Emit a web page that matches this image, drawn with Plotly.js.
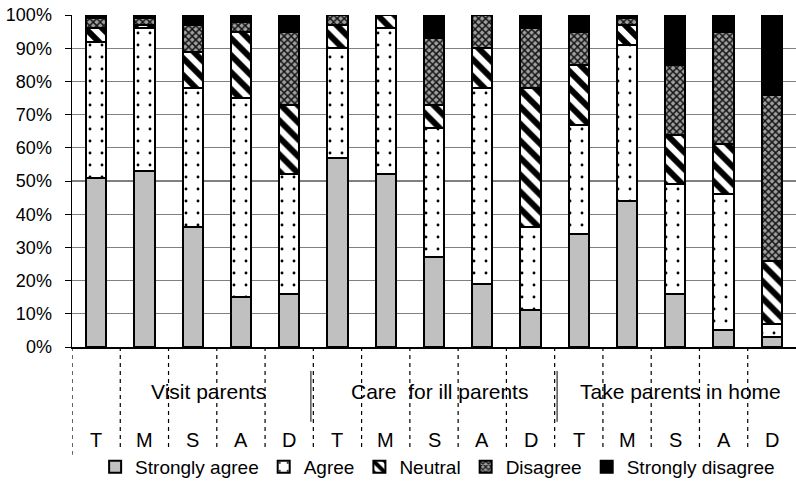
<!DOCTYPE html>
<html>
<head>
<meta charset="utf-8">
<script src="https://cdn.plot.ly/plotly-3.0.1.min.js"></script>
<style>html,body{margin:0;padding:0;background:#fff;}#chart{width:796px;height:486px;}</style>
</head>
<body>
<div id="chart"></div>
<script>
var groups = ['Visit parents', 'Care\u00a0 for ill parents', 'Take parents in home'];
var subLabels = ['T', 'M', 'S', 'A', 'D'];
var seriesNames = ['Strongly agree', 'Agree', 'Neutral', 'Disagree', 'Strongly disagree'];
var stronglyAgree    = [51, 53, 36, 15, 16, 57, 52, 27, 19, 11, 34, 44, 16, 5, 3];
var agree            = [41, 43, 42, 60, 36, 33, 44, 39, 59, 25, 33, 47, 33, 41, 4];
var neutral          = [4, 1, 11, 20, 21, 7, 4, 7, 12, 42, 18, 6, 15, 15, 19];
var disagree         = [3, 2, 8, 3, 22, 3, 0, 20, 10, 18, 10, 2, 21, 34, 50];
var stronglyDisagree = [1, 1, 3, 2, 5, 0, 0, 7, 0, 4, 5, 1, 15, 5, 24];
var yTicks = [0, 10, 20, 30, 40, 50, 60, 70, 80, 90, 100];

var values = [stronglyAgree, agree, neutral, disagree, stronglyDisagree];
var xs = [];
var cats = [];
groups.forEach(function (g) { subLabels.forEach(function (s) { xs.push(xs.length); cats.push(s); }); });

var styles = [
  {color: '#c0c0c0', pattern: {shape: ''}},
  {color: '#ffffff', pattern: {shape: '.', fgcolor: '#000', bgcolor: '#fff', size: 12, solidity: 0.045}},
  {color: '#ffffff', pattern: {shape: '\\', fgcolor: '#000', bgcolor: '#fff', size: 12, solidity: 0.5}},
  {color: '#808080', pattern: {shape: 'x', fgcolor: '#151515', bgcolor: '#a0a0a0', size: 5, solidity: 0.5}},
  {color: '#000000', pattern: {shape: ''}}
];

var traces = values.map(function (v, i) {
  return {
    type: 'bar', x: xs, y: v, name: seriesNames[i],
    marker: {color: styles[i].color, pattern: styles[i].pattern, line: {color: '#000', width: 2}},
    hoverinfo: 'skip'
  };
});

var H = 333; // plot height in px
function py(px) { return -px / H; }

var shapes = [];
var annotations = [];
for (var k = 0; k <= xs.length - 1; k++) {
  shapes.push({type: 'line', xref: 'x', yref: 'paper', x0: k - 0.5, x1: k - 0.5, y0: 0, y1: py(108),
    line: {color: '#000', width: 1.2, dash: '4px,4px'}});
}
var sepX = [4.45, 9.55];
sepX.forEach(function (bx) {
  shapes.push({type: 'line', xref: 'x', yref: 'paper', x0: bx, x1: bx, y0: py(24), y1: py(75),
    line: {color: '#000', width: 1}});
});
var groupX = [2.32, 7.12, 12.1];
groups.forEach(function (gname, gi) {
  annotations.push({xref: 'x', yref: 'paper', x: groupX[gi], y: py(45), text: gname, showarrow: false,
    xanchor: 'center', yanchor: 'middle', font: {size: 21, color: '#000'}});
});
cats.forEach(function (c, i) {
  annotations.push({xref: 'x', yref: 'paper', x: xs[i], y: py(93), text: c, showarrow: false,
    xanchor: 'center', yanchor: 'middle', font: {size: 20, color: '#000'}});
});

var layout = {
  width: 796, height: 486,
  margin: {l: 72, r: 0, t: 15, b: 138},
  paper_bgcolor: '#fff', plot_bgcolor: '#fff',
  font: {family: 'Liberation Sans, Arial, sans-serif', color: '#000', size: 16},
  barmode: 'stack', bargap: 0.58,
  showlegend: true,
  legend: {orientation: 'h', x: 0.505, xanchor: 'center', y: py(121), yanchor: 'middle',
    font: {size: 19}, itemwidth: 30, traceorder: 'normal'},
  xaxis: {range: [-0.5, xs.length - 0.5], showticklabels: false, showgrid: false, zeroline: false,
    ticks: '', showline: true, linecolor: '#000', linewidth: 1.5, fixedrange: true},
  yaxis: {range: [0, 100], tickvals: yTicks, ticktext: yTicks.map(function (t) { return t + '%'; }),
    showgrid: true, gridcolor: '#808080', gridwidth: 1.3, zeroline: false,
    showline: true, linecolor: '#000', linewidth: 1.5, ticks: 'outside', ticklen: 6, tickcolor: '#000',
    ticklabelstandoff: 9, tickfont: {size: 18}, fixedrange: true},
  shapes: shapes,
  annotations: annotations
};

Plotly.newPlot('chart', traces, layout, {staticPlot: true, displayModeBar: false});
</script>
</body>
</html>
